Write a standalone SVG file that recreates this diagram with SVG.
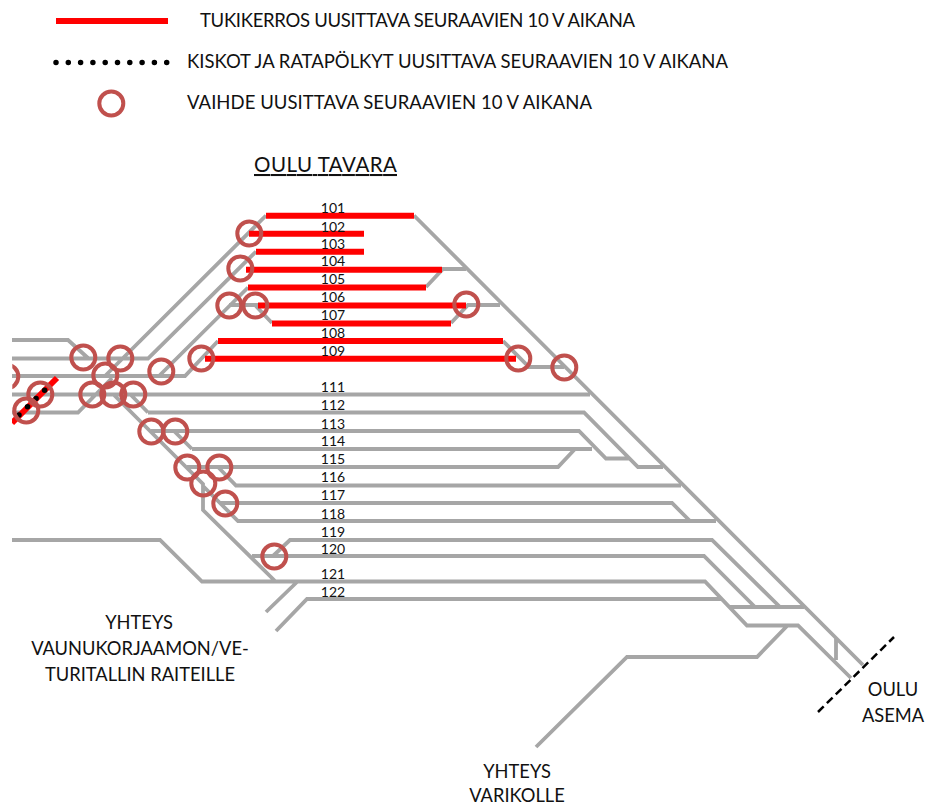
<svg xmlns="http://www.w3.org/2000/svg" width="926" height="805" viewBox="0 0 926 805">
<style>
.t{fill:none;stroke:#a6a6a6;stroke-width:3.8;stroke-linejoin:miter}
.r{fill:none;stroke:#ff0000;stroke-width:6}
.c{fill:none;stroke:#c0504d;stroke-width:4}
text{font-family:"Lato","Open Sans","Liberation Sans",sans-serif;fill:#111}
.l{font-size:18.5px}
.n{font-size:14px;text-anchor:middle}
.m{font-size:18.3px;text-anchor:middle}
</style>
<defs><clipPath id="clip"><rect x="12" y="0" width="914" height="805"/></clipPath></defs>
<rect width="926" height="805" fill="#fff"/>
<g id="connectors">
<g id="tracks">
<path class="t" d="M414 215.500L863 665M266 215.500L105 376M256 251.500L148 358.500H12M12 340H68L88 358M248 287.500L159 376M218 341L185 376H12M12 394.500H590M12 412.500H78L112 378M113 394L203 484V510L275 581M148 412.500L130 394M148 412.500H584L638 467H663M151 431H579L606 458.500H629M192 449L174 431M192 449H592M187 467H558L575 449M218 467L236 485.500H681M220 503H672L690 521M203 486L238 521H716M252 556H704L755 607M273 556L290 540H712L780 607M730 607H804M12 540H160L202 581.500H705L747 625.500H798L851 678M722 599H307L276 631M297 582L266 612M536 747L627 657H757L788 625M836 638V660M229 305H258M255 305L272 323M451 323L468 305H500M426 287L443 269H466M503 341L529 367H564"/>
</g>
<g id="renewal-ballast">
<path class="r" d="M266 215.700H414M249 233.700H364M256 251.700H364M246 269.700H442M248 287.500H426M258 305.500H466M272 323.500H451M218 341H503M205 358.700H516"/>
<path class="r" clip-path="url(#clip)" d="M12 423L57 378"/>
</g>
<path id="renewal-rails" d="M19 415L53 382" fill="none" stroke="#000" stroke-width="5.500" stroke-linecap="round" stroke-dasharray="0 11.900"/>
<path id="boundary" d="M818 712L894 637" fill="none" stroke="#000" stroke-width="2.500" stroke-dasharray="8 4.500"/>
</g>
<g id="switches" transform="translate(0.300 0.500)">
<g clip-path="url(#clip)"><circle class="c" cx="6" cy="376" r="12"/></g>
<circle class="c" cx="249" cy="233" r="12"/><circle class="c" cx="240" cy="268" r="12"/><circle class="c" cx="229" cy="305" r="12"/><circle class="c" cx="255" cy="305" r="12"/><circle class="c" cx="466" cy="304" r="12"/><circle class="c" cx="201" cy="358" r="12"/><circle class="c" cx="518" cy="358" r="12"/><circle class="c" cx="564" cy="367" r="12"/><circle class="c" cx="83" cy="357" r="12"/><circle class="c" cx="120" cy="358" r="12"/><circle class="c" cx="161" cy="371" r="12"/><circle class="c" cx="105" cy="375" r="12"/><circle class="c" cx="92" cy="394" r="12"/><circle class="c" cx="113" cy="394" r="12"/><circle class="c" cx="133" cy="394" r="12"/><circle class="c" cx="40" cy="394" r="12"/><circle class="c" cx="26" cy="410" r="12"/><circle class="c" cx="151" cy="431" r="12"/><circle class="c" cx="175" cy="431" r="12"/><circle class="c" cx="187" cy="467" r="12"/><circle class="c" cx="219" cy="467" r="12"/><circle class="c" cx="203" cy="483" r="12"/><circle class="c" cx="225" cy="503" r="12"/><circle class="c" cx="274" cy="556" r="12"/>
</g>
<g id="legend">
<path class="r" d="M56 21H168"/>
<path d="M56 62.500H168" fill="none" stroke="#000" stroke-width="5.500" stroke-linecap="round" stroke-dasharray="0 12.300"/>
<circle class="c" cx="111.300" cy="103.500" r="12"/>
<text class="l" x="200" y="27" textLength="435">TUKIKERROS UUSITTAVA SEURAAVIEN 10 V AIKANA</text>
<text class="l" x="187" y="68" textLength="541">KISKOT JA RATAPÖLKYT UUSITTAVA SEURAAVIEN 10 V AIKANA</text>
<text class="l" x="187" y="109" textLength="405">VAIHDE UUSITTAVA SEURAAVIEN 10 V AIKANA</text>
</g>
<g id="labels">
<text x="254" y="172" font-size="20.500" text-decoration="underline" textLength="143">OULU TAVARA</text>
<text class="n" x="333" y="213">101</text><text class="n" x="333" y="232">102</text><text class="n" x="333" y="249">103</text><text class="n" x="333" y="266">104</text><text class="n" x="333" y="284">105</text><text class="n" x="333" y="302">106</text><text class="n" x="333" y="320">107</text><text class="n" x="333" y="338">108</text><text class="n" x="333" y="356">109</text><text class="n" x="333" y="392">111</text><text class="n" x="333" y="410">112</text><text class="n" x="333" y="429">113</text><text class="n" x="333" y="446">114</text><text class="n" x="333" y="464">115</text><text class="n" x="333" y="482">116</text><text class="n" x="333" y="500">117</text><text class="n" x="333" y="519">118</text><text class="n" x="333" y="537">119</text><text class="n" x="333" y="554">120</text><text class="n" x="333" y="579">121</text><text class="n" x="333" y="597">122</text>
<text class="m" x="139" y="629">YHTEYS</text><text class="m" x="140" y="655">VAUNUKORJAAMON/VE-</text><text class="m" x="140" y="681">TURITALLIN RAITEILLE</text>
<text class="m" x="893" y="696">OULU</text><text class="m" x="893" y="722">ASEMA</text>
<text class="m" x="517" y="778">YHTEYS</text><text class="m" x="517" y="802">VARIKOLLE</text>
</g>
</svg>
